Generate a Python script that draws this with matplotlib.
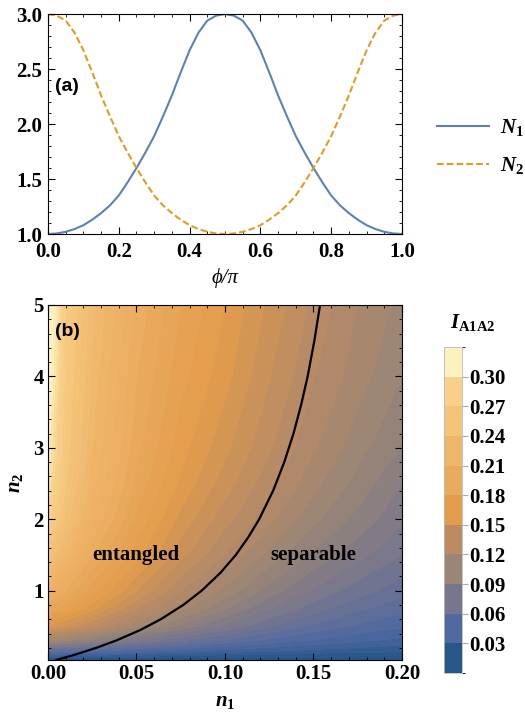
import numpy as np
import matplotlib
matplotlib.use("Agg")
import matplotlib.pyplot as plt
from matplotlib.colors import LinearSegmentedColormap, ListedColormap, BoundaryNorm, Normalize
from matplotlib.cm import ScalarMappable
from matplotlib.ticker import MultipleLocator

plt.rcParams['font.family'] = ['Liberation Serif', 'DejaVu Serif']
plt.rcParams['mathtext.fontset'] = 'custom'
plt.rcParams['mathtext.it'] = 'Liberation Serif:italic:bold'
plt.rcParams['mathtext.rm'] = 'Liberation Serif:bold'
plt.rcParams['mathtext.bf'] = 'Liberation Serif:bold'

# ---- panel (a) data ----
phi = [0.0, 0.025, 0.05, 0.075, 0.1, 0.125, 0.15, 0.175, 0.2, 0.225, 0.25,
       0.275, 0.3, 0.325, 0.35, 0.375, 0.4, 0.425, 0.45, 0.475, 0.5,
       0.525, 0.55, 0.575, 0.6, 0.625, 0.65, 0.675, 0.7, 0.725, 0.75,
       0.775, 0.8, 0.825, 0.85, 0.875, 0.9, 0.925, 0.95, 0.975, 1.0]
N1 = [1.00, 1.005, 1.02, 1.045, 1.08, 1.13, 1.19, 1.26, 1.35, 1.47, 1.60,
      1.74, 1.89, 2.07, 2.26, 2.47, 2.67, 2.83, 2.94, 2.985, 3.00,
      2.985, 2.94, 2.83, 2.67, 2.47, 2.26, 2.07, 1.89, 1.74, 1.60,
      1.47, 1.35, 1.26, 1.19, 1.13, 1.08, 1.045, 1.02, 1.005, 1.00]
N2 = [3.00, 2.985, 2.94, 2.83, 2.67, 2.47, 2.26, 2.07, 1.89, 1.74, 1.60,
      1.47, 1.35, 1.26, 1.19, 1.13, 1.08, 1.045, 1.02, 1.005, 1.00,
      1.005, 1.02, 1.045, 1.08, 1.13, 1.19, 1.26, 1.35, 1.47, 1.60,
      1.74, 1.89, 2.07, 2.26, 2.47, 2.67, 2.83, 2.94, 2.985, 3.00]

# ---- panel (b) data ----
n1_grid = [0.0, 0.01, 0.025, 0.05, 0.075, 0.1, 0.125, 0.15, 0.175, 0.2]
n2_grid = [0.03, 0.15, 0.3, 0.5, 0.75, 1.0, 1.5, 2.0, 2.5, 3.0, 4.0, 5.0]
I_vals = [
    [0.010, 0.010, 0.009, 0.008, 0.008, 0.007, 0.007, 0.006, 0.006, 0.006],
    [0.055, 0.052, 0.048, 0.042, 0.037, 0.033, 0.030, 0.027, 0.025, 0.023],
    [0.110, 0.105, 0.095, 0.080, 0.068, 0.058, 0.050, 0.044, 0.039, 0.035],
    [0.155, 0.148, 0.135, 0.113, 0.095, 0.081, 0.068, 0.058, 0.051, 0.046],
    [0.185, 0.175, 0.160, 0.135, 0.115, 0.098, 0.083, 0.071, 0.062, 0.055],
    [0.210, 0.195, 0.175, 0.150, 0.128, 0.110, 0.094, 0.081, 0.071, 0.063],
    [0.250, 0.225, 0.195, 0.168, 0.145, 0.127, 0.110, 0.096, 0.085, 0.075],
    [0.280, 0.245, 0.210, 0.178, 0.155, 0.138, 0.122, 0.107, 0.095, 0.084],
    [0.300, 0.255, 0.220, 0.185, 0.163, 0.146, 0.130, 0.115, 0.102, 0.090],
    [0.310, 0.260, 0.225, 0.190, 0.168, 0.152, 0.136, 0.121, 0.108, 0.097],
    [0.325, 0.265, 0.230, 0.195, 0.175, 0.160, 0.143, 0.128, 0.116, 0.105],
    [0.335, 0.270, 0.235, 0.200, 0.180, 0.165, 0.148, 0.133, 0.120, 0.110],
]
# separability boundary (n1, n2)
border_n2 = [0.03, 0.1, 0.2, 0.3, 0.45, 0.6, 0.8, 1.0, 1.25, 1.5, 1.75,
             2.0, 2.4, 2.8, 3.2, 3.6, 4.0, 4.5, 5.0]
border_n1 = [0.0047, 0.0147, 0.0273, 0.0383, 0.0522, 0.0637, 0.0764, 0.0868,
             0.0974, 0.1061, 0.1132, 0.1193, 0.1272, 0.1335, 0.1387, 0.1430,
             0.1467, 0.1505, 0.1537]

cb_ticks = [0.03, 0.06, 0.09, 0.12, 0.15, 0.18, 0.21, 0.24, 0.27, 0.30]
bin_colors = ['#27568B', '#5069A0', '#76768E', '#9A8576', '#BB8C62', '#E39C4B',
              '#EAAB5E', '#EFB66B', '#F4C479', '#F8D08A', '#FEF1C0']

fig = plt.figure(figsize=(5.25, 7.22), dpi=100)

# ---------------- (a) ----------------
ax1 = fig.add_axes([0.0914, 0.6759, 0.6743, 0.3047])
ax1.plot(phi, N1, color='#5E81B5', lw=1.5, label='$N_1$')
ax1.plot(phi, N2, color='#E19C24', lw=1.5, ls=(0, (3.2, 1.5)), label='$N_2$')
ax1.set_xlim(0, 1)
ax1.set_ylim(1, 3)
ax1.xaxis.set_major_locator(MultipleLocator(0.2))
ax1.xaxis.set_minor_locator(MultipleLocator(0.05))
ax1.yaxis.set_major_locator(MultipleLocator(0.5))
ax1.yaxis.set_minor_locator(MultipleLocator(0.1))
ax1.set_xticklabels([f'{v:.1f}' for v in ax1.get_xticks()])
ax1.set_yticklabels([f'{v:.1f}' for v in ax1.get_yticks()])
ax1.set_xlabel('ϕ/π', fontsize=15, style='italic', labelpad=4)
ax1.text(0.02, 0.67, '(a)', transform=ax1.transAxes, fontsize=14,
         fontweight='bold', family='Liberation Sans', va='center')
fig.legend(loc='center left', bbox_to_anchor=(0.797, 0.797), frameon=False,
           fontsize=15, handlelength=2.5, labelspacing=0.8, handletextpad=0.5)

# ---------------- (b) ----------------
cmap = LinearSegmentedColormap.from_list(
    'sun', [(0.0, bin_colors[0])] +
    [((i + 0.5) / 11, c) for i, c in enumerate(bin_colors)] +
    [(1.0, bin_colors[-1])])
norm = Normalize(0, 0.33)

ax2 = fig.add_axes([0.0914, 0.0859, 0.6743, 0.4917])
X, Y = np.meshgrid(n1_grid, n2_grid)
levels = np.linspace(0, 0.345, 47)
ax2.contourf(X, Y, np.array(I_vals), levels=levels, cmap=cmap, norm=norm,
             extend='both')
ax2.plot(border_n1, border_n2, color='black', lw=1.6)
ax2.set_xlim(0, 0.2)
ax2.set_ylim(0.03, 5)
ax2.xaxis.set_minor_locator(MultipleLocator(0.01))
ax2.yaxis.set_minor_locator(MultipleLocator(0.2))
ax2.set_xticks([0, 0.05, 0.1, 0.15, 0.2])
ax2.set_xticklabels(['0.00', '0.05', '0.10', '0.15', '0.20'])
ax2.set_yticks([1, 2, 3, 4, 5])
ax2.set_yticklabels(['1', '2', '3', '4', '5'])
ax2.set_xlabel('$n_1$', fontsize=15, labelpad=6)
ax2.set_ylabel('$n_2$', fontsize=15, labelpad=6)
ax2.text(0.02, 0.924, '(b)', transform=ax2.transAxes, fontsize=14,
         fontweight='bold', family='Liberation Sans', va='center')
ax2.text(0.0497, 1.5, 'entangled', fontsize=15, fontweight='bold',
         ha='center', va='center')
ax2.text(0.1497, 1.5, 'separable', fontsize=15, fontweight='bold',
         ha='center', va='center')

for ax in (ax1, ax2):
    ax.tick_params(which='both', direction='in', top=True, right=True,
                   labelsize=15, pad=3)
    ax.tick_params(which='major', length=5, width=0.8)
    ax.tick_params(which='minor', length=2.5, width=0.6)
    for lab in ax.get_xticklabels() + ax.get_yticklabels():
        lab.set_fontweight('bold')
# keep the corner labels of panel (a) apart
ax1.tick_params(axis='x', pad=6)
ax1.tick_params(axis='y', pad=4)

# colorbar
cax = fig.add_axes([0.8457, 0.0679, 0.0343, 0.4515])
bounds = np.linspace(0, 0.33, 12)
sm = ScalarMappable(norm=BoundaryNorm(bounds, 11), cmap=ListedColormap(bin_colors))
cb = fig.colorbar(sm, cax=cax, ticks=cb_ticks)
cb.ax.set_yticklabels([f'{t:.2f}' for t in cb_ticks])
cb.outline.set_edgecolor('#BBBBBB')
cb.outline.set_linewidth(0.6)
cax.tick_params(direction='out', length=4, color='#AAAAAA', labelsize=15, pad=1)
for lab in cax.get_yticklabels():
    lab.set_fontweight('bold')
fig.text(0.90, 0.553, r'$I_{\mathrm{A1A2}}$', fontsize=15, ha='center', va='center')

fig.savefig('out.png', dpi=100)
